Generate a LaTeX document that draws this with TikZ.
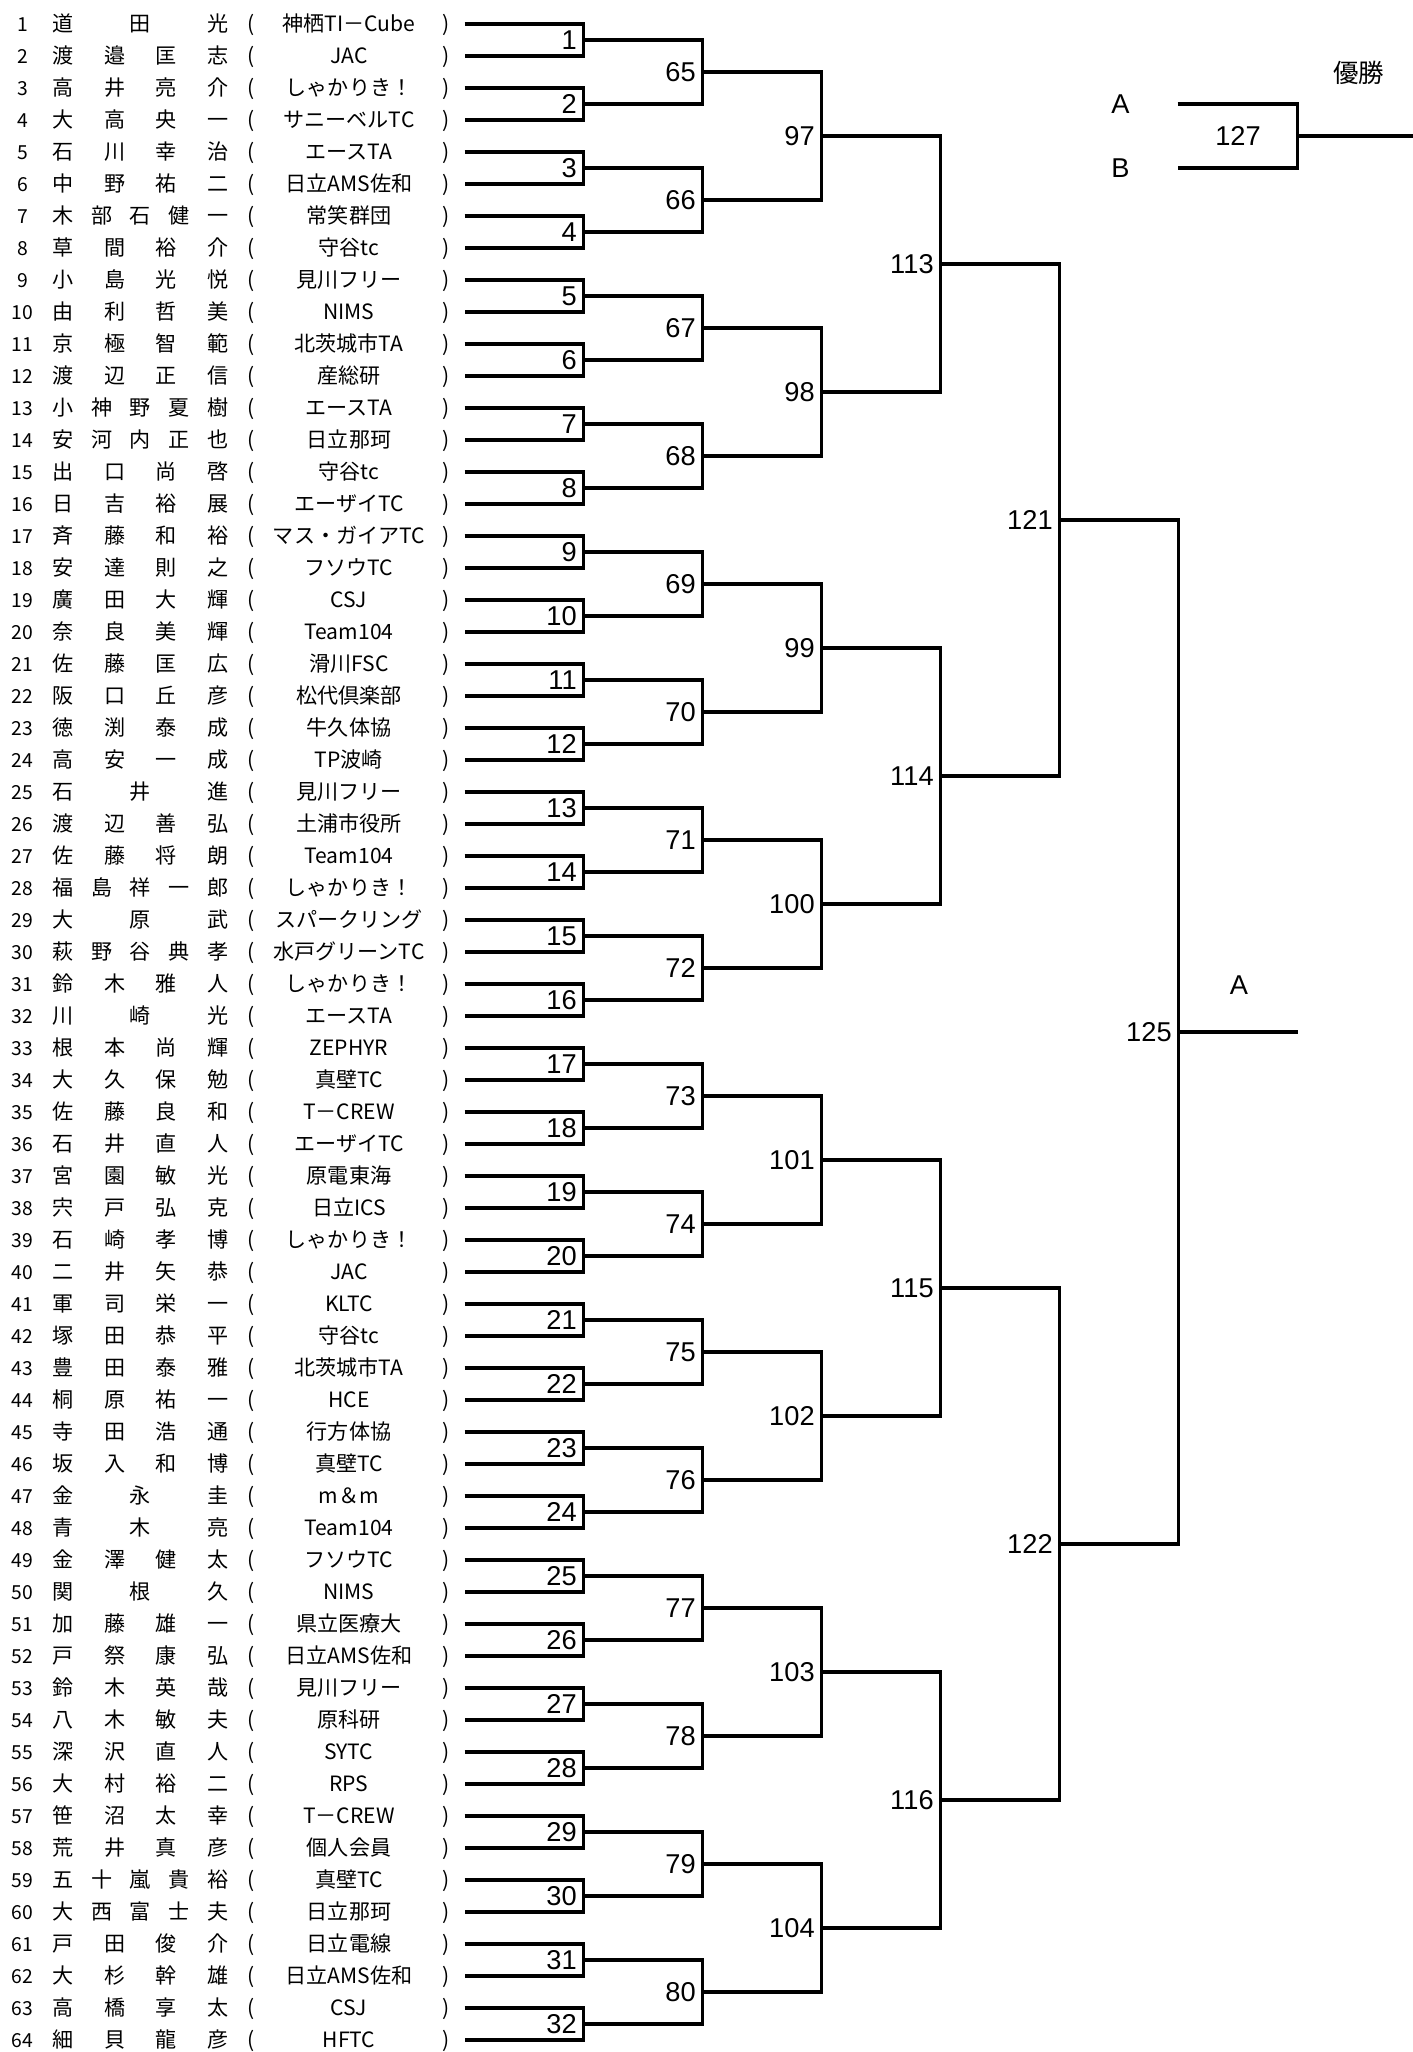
\documentclass[tikz,border=0pt]{standalone}
\usepackage{fontspec}
\setmainfont{Noto Sans CJK JP}
\newfontfamily\labfont{Liberation Sans}
\usetikzlibrary{positioning}

% spread the letters of a name over a fixed width
\def\spreadname#1{\hbox to 3.52cm{\expandafter\spreadA#1\relax}}
\def\spreadA#1{\ifx#1\relax\else#1\expandafter\spreadB\fi}
\def\spreadB#1{\ifx#1\relax\else\hfill#1\expandafter\spreadB\fi}

\tikzset{
    bline/.style={line width=0.064cm},
    row/.style={
        inner sep=0, text height=10.5pt, text depth=1.5pt,
        font=\fontsize{12}{14}\selectfont
    },
    rnum/.style={row, font=\fontsize{11}{13}\selectfont},
    mlabel/.style={inner sep=0, font=\labfont\fontsize{15.5}{17}\selectfont}
}

\begin{document}
\begin{tikzpicture}[x=0.02cm, y=-0.02cm]
\useasboundingbox (0,0) rectangle (1413,2052);

% Players
\foreach \n/\who/\club in {
    1/道田光/神栖TI－Cube, 2/渡邉匡志/JAC, 3/高井亮介/しゃかりき！, 4/大高央一/サニーベルTC,
    5/石川幸治/エースTA, 6/中野祐二/日立AMS佐和, 7/木部石健一/常笑群団, 8/草間裕介/守谷tc,
    9/小島光悦/見川フリー, 10/由利哲美/NIMS, 11/京極智範/北茨城市TA, 12/渡辺正信/産総研,
    13/小神野夏樹/エースTA, 14/安河内正也/日立那珂, 15/出口尚啓/守谷tc, 16/日吉裕展/エーザイTC,
    17/斉藤和裕/マス・ガイアTC, 18/安達則之/フソウTC, 19/廣田大輝/CSJ, 20/奈良美輝/Team104,
    21/佐藤匡広/滑川FSC, 22/阪口丘彦/松代倶楽部, 23/徳渕泰成/牛久体協, 24/高安一成/TP波崎,
    25/石井進/見川フリー, 26/渡辺善弘/土浦市役所, 27/佐藤将朗/Team104, 28/福島祥一郎/しゃかりき！,
    29/大原武/スパークリング, 30/萩野谷典孝/水戸グリーンTC, 31/鈴木雅人/しゃかりき！, 32/川崎光/エースTA,
    33/根本尚輝/ZEPHYR, 34/大久保勉/真壁TC, 35/佐藤良和/T－CREW, 36/石井直人/エーザイTC,
    37/宮園敏光/原電東海, 38/宍戸弘克/日立ICS, 39/石崎孝博/しゃかりき！, 40/二井矢恭/JAC,
    41/軍司栄一/KLTC, 42/塚田恭平/守谷tc, 43/豊田泰雅/北茨城市TA, 44/桐原祐一/HCE,
    45/寺田浩通/行方体協, 46/坂入和博/真壁TC, 47/金永圭/m＆m, 48/青木亮/Team104,
    49/金澤健太/フソウTC, 50/関根久/NIMS, 51/加藤雄一/県立医療大, 52/戸祭康弘/日立AMS佐和,
    53/鈴木英哉/見川フリー, 54/八木敏夫/原科研, 55/深沢直人/SYTC, 56/大村裕二/RPS,
    57/笹沼太幸/T－CREW, 58/荒井真彦/個人会員, 59/五十嵐貴裕/真壁TC, 60/大西富士夫/日立那珂,
    61/戸田俊介/日立電線, 62/大杉幹雄/日立AMS佐和, 63/高橋享太/CSJ, 64/細貝龍彦/HFTC}{
    \pgfmathsetmacro\yy{24+32*(\n-1)}
    \node[rnum] (n\n) at (22.5,\yy) {\n};
    \node[row] (p\n) at (140.5,\yy) {\spreadname\who};
    \node[row] (o\n) at (250.7,\yy) {(};
    \node[row] (c\n) at (349,\yy) {\club};
    \node[row] (k\n) at (445.8,\yy) {)};
    \coordinate (e\n) at (464.5,\yy);
}

% First round
\foreach \m in {1,...,32}{
    \pgfmathtruncatemacro\a{2*\m-1}
    \pgfmathtruncatemacro\b{2*\m}
    \pgfmathsetmacro\yy{40+64*(\m-1)}
    \coordinate (m\m) at (583.5,\yy);
    \draw[bline] (e\a) -| (m\m) |- (e\b);
    \node[mlabel, left=0.13cm of m\m] (l\m) {\m};
}

% Later rounds
\foreach \r/\off/\poff/\cnt in {2/64/0/16, 3/96/64/8, 4/112/96/4, 5/120/112/2, 6/124/120/1}{
    \foreach \j in {1,...,\cnt}{
        \pgfmathtruncatemacro\m{\off+\j}
        \pgfmathtruncatemacro\a{\poff+2*\j-1}
        \pgfmathtruncatemacro\b{\poff+2*\j}
        \pgfmathsetmacro\xx{464.5+119*\r}
        \pgfmathsetmacro\yy{24+32*((\j-1)*2^\r+(2^\r-1)/2)}
        \coordinate (m\m) at (\xx,\yy);
        \draw[bline] (m\a) -| (m\m) |- (m\b);
        \node[mlabel, left=0.13cm of m\m] (l\m) {\m};
    }
}

% Block winner
\coordinate (a125) at (1297.5,1032);
\draw[bline] (m125) -- (a125);
\node[mlabel] (ta) at (1239,985) {A};

% Final
\node[mlabel] (fa) at (1120.5,104) {A};
\node[mlabel] (fb) at (1120.5,168) {B};
\coordinate (sa) at (1177.5,104);
\coordinate (sb) at (1177.5,168);
\coordinate (m127) at (1297.5,136);
\coordinate (champ) at (1413,136);
\draw[bline] (sa) -| (m127) |- (sb);
\draw[bline] (m127) -- (champ);
\node[mlabel] (l127) at (1238,136) {127};
\node[inner sep=0, font=\fontsize{14.5}{16}\selectfont] (win) at (1358.5,73) {優勝};

\end{tikzpicture}
\end{document}
